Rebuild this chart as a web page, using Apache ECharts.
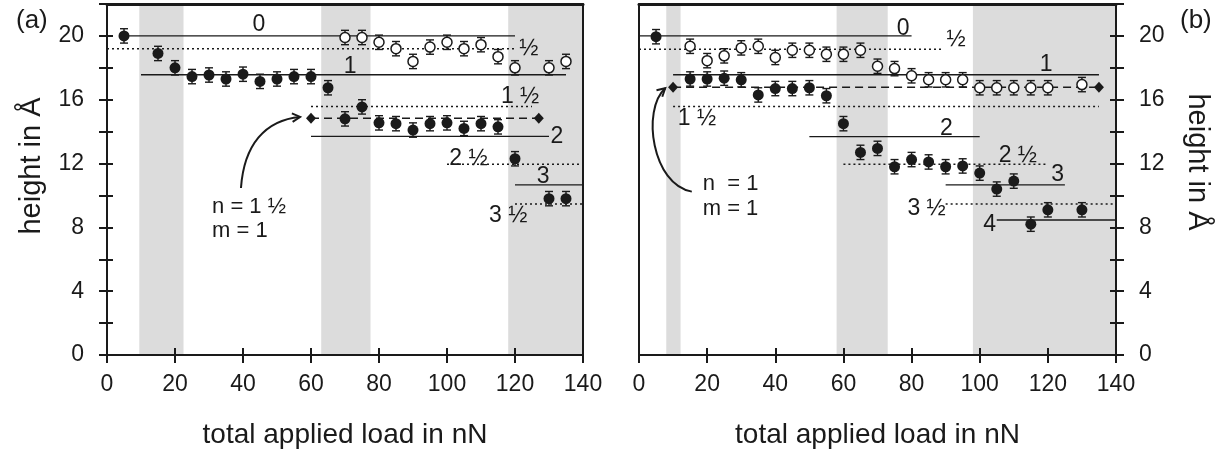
<!DOCTYPE html>
<html><head><meta charset="utf-8">
<script src="https://cdn.jsdelivr.net/npm/echarts@6/dist/echarts.min.js"></script>
<style>html,body{margin:0;padding:0;background:#fff}#c{width:1228px;height:454px}</style>
</head><body><div id="c"></div>
<script>
// ---------- Panel (a) ----------
const loadA_filled = [5,15,20,25,30,35,40,45,50,55,60,65,70,75,80,85,90,95,100,105,110,115,120,130,135];
const heightA_filled = [20.0,18.9,18.0,17.45,17.55,17.3,17.6,17.15,17.3,17.45,17.45,16.75,14.8,15.55,14.55,14.5,14.1,14.5,14.55,14.2,14.5,14.3,12.3,9.8,9.8];
const errA_filled = [0.45,0.45,0.45,0.45,0.45,0.45,0.45,0.45,0.45,0.45,0.45,0.45,0.45,0.45,0.45,0.45,0.45,0.45,0.45,0.45,0.45,0.45,0.45,0.45,0.45];
const loadA_open = [70,75,80,85,90,95,100,105,110,115,120,130,135];
const heightA_open = [19.9,19.9,19.6,19.2,18.4,19.3,19.6,19.2,19.45,18.7,18.0,18.0,18.4];
const errA_open = [0.45,0.45,0.45,0.45,0.45,0.45,0.45,0.45,0.45,0.45,0.45,0.45,0.45];
const bandsA = [[9.5,22.5],[63,77.5],[118,140]];
// levels: [height, from load, to load]
const levelsA_solid = [[20.0,5,120],[17.57,10,135],[13.7,60,130],[10.66,120,140]];
const levelsA_dotted = [[19.2,0,120],[15.57,60,125],[11.95,100,140],[9.47,120,140]];
const levelsA_dashed = [[14.84,60,127]];
const diamondsA = [[60,14.84],[127,14.84]];
const levelTextA = ['0','½','1','1 ½','2','2 ½','3','3 ½'];
const levelAtA = [[44.7,20.7],[124.1,19.2],[71.5,18.07],[121.5,16.2],[132.3,13.7],[106.3,12.33],[128.3,11.18],[118,8.71]];
const noteTextA = ['n = 1 ½','m = 1'];
const noteAtA = [[30.9,9.28],[30.9,7.77]];
const arrowA = [[39.4,10.47],[40.3,13.17],[46.5,14.73],[56.8,14.92]];

// ---------- Panel (b) ----------
const loadB_filled = [5,15,20,25,30,35,40,45,50,55,60,65,70,75,80,85,90,95,100,105,110,115,120,130];
const heightB_filled = [19.95,17.3,17.3,17.35,17.25,16.3,16.7,16.7,16.75,16.25,14.5,12.7,12.95,11.8,12.25,12.1,11.8,11.85,11.4,10.4,10.9,8.2,9.1,9.1];
const errB_filled = [0.45,0.45,0.45,0.45,0.45,0.45,0.45,0.45,0.45,0.45,0.45,0.45,0.45,0.45,0.45,0.45,0.45,0.45,0.45,0.45,0.45,0.45,0.45,0.45];
const loadB_open = [15,20,25,30,35,40,45,50,55,60,65,70,75,80,85,90,95,100,105,110,115,120,130];
const heightB_open = [19.35,18.45,18.75,19.25,19.35,18.65,19.1,19.1,18.85,18.85,19.1,18.1,17.95,17.5,17.25,17.25,17.25,16.75,16.75,16.75,16.75,16.75,16.95];
const errB_open = [0.45,0.45,0.45,0.45,0.45,0.45,0.45,0.45,0.45,0.45,0.45,0.45,0.45,0.45,0.45,0.45,0.45,0.45,0.45,0.45,0.45,0.45,0.45];
const bandsB = [[8,12.2],[58,73],[98,140]];
const levelsB_solid = [[20.0,0,80],[17.57,10,135],[13.69,50,100],[10.66,90,125],[8.46,105,140]];
const levelsB_dotted = [[19.17,0,89],[15.57,10,135],[11.96,60,120],[9.47,90,140]];
const levelsB_dashed = [[16.78,10,135]];
const diamondsB = [[10,16.78],[135,16.78]];
const levelTextB = ['0','½','1','1 ½','2','2 ½','3','3 ½','4'];
const levelAtB = [[77.5,20.48],[93.1,19.75],[119.5,18.18],[17.0,14.84],[90.2,14.21],[111.2,12.48],[122.9,11.29],[84.4,9.2],[102.9,8.15]];
const noteTextB = ['n  = 1','m = 1'];
const noteAtB = [[18.7,10.72],[18.7,9.15]];
const arrowB = [[15.5,10.24],[3.9,10.66],[0.67,15.36],[7.7,16.72]];

// ---------- axes ----------
const xMin = 0, xMax = 140, xStep = 20;
const yMin = 0, yMax = 22, yStep = 2, yLabelStep = 4;
const xTitle = 'total applied load in nN';
const yTitle = 'height in Å';

const FONT = '"Liberation Sans", Arial, sans-serif';
const INK = '#1a1a1a';
const chart = echarts.init(document.getElementById('c'));

const pts = (xs, ys) => xs.map((x,i)=>[x, ys[i]]);
const errs = (xs, ys, es) => xs.map((x,i)=>[x, ys[i]-es[i], ys[i]+es[i]]);

function bandSeries(ai, data){
  return {type:'custom', xAxisIndex:ai*3, yAxisIndex:ai*3, z:1, silent:true, data,
    encode:{x:[0,1]},
    renderItem(p, api){
      const a = api.coord([api.value(0), yMax]), b = api.coord([api.value(1), yMin]);
      return {type:'rect', shape:{x:a[0], y:a[1], width:b[0]-a[0], height:b[1]-a[1]}, style:{fill:'#dcdcdc'}};
    }};
}
function levelSeries(ai, data, dash, w){
  return {type:'custom', xAxisIndex:ai*3, yAxisIndex:ai*3, z:2, silent:true, data,
    encode:{x:[1,2], y:0},
    renderItem(p, api){
      const h = api.value(0);
      const a = api.coord([api.value(1), h]), b = api.coord([api.value(2), h]);
      return {type:'line', shape:{x1:a[0], y1:a[1], x2:b[0], y2:b[1]},
        style:{stroke:INK, lineWidth:w, lineDash:dash}};
    }};
}
function errSeries(ai, data){
  return {type:'custom', xAxisIndex:ai*3, yAxisIndex:ai*3, z:3, silent:true, data,
    encode:{x:0, y:[1,2]},
    renderItem(p, api){
      const x = api.value(0);
      const a = api.coord([x, api.value(1)]), b = api.coord([x, api.value(2)]);
      const w = 4, st = {stroke:INK, lineWidth:1.4};
      return {type:'group', children:[
        {type:'line', shape:{x1:a[0], y1:a[1], x2:b[0], y2:b[1]}, style:st},
        {type:'line', shape:{x1:a[0]-w, y1:a[1], x2:a[0]+w, y2:a[1]}, style:st},
        {type:'line', shape:{x1:b[0]-w, y1:b[1], x2:b[0]+w, y2:b[1]}, style:st}
      ]};
    }};
}
function textSeries(ai, at, texts, align, size){
  return {type:'custom', xAxisIndex:ai*3, yAxisIndex:ai*3, z:6, silent:true, data:at,
    renderItem(p, api){
      const c = api.coord([api.value(0), api.value(1)]);
      return {type:'text', x:c[0], y:c[1], style:{text:texts[p.dataIndex], fill:INK,
        font: size + 'px ' + FONT, align, verticalAlign:'middle', textAlign:align, textVerticalAlign:'middle'}};
    }};
}
function arrowSeries(ai, ctrl){
  return {type:'custom', xAxisIndex:ai*3, yAxisIndex:ai*3, z:6, silent:true, data:[[ctrl[0][0], ctrl[0][1]]],
    renderItem(p, api){
      const c = ctrl.map(q => api.coord(q));
      const dx = c[3][0]-c[2][0], dy = c[3][1]-c[2][1];
      const ang = Math.atan2(dy, dx), L = 9, s = 0.5;
      const h1 = [c[3][0]-L*Math.cos(ang-s), c[3][1]-L*Math.sin(ang-s)];
      const h2 = [c[3][0]-L*Math.cos(ang+s), c[3][1]-L*Math.sin(ang+s)];
      const st = {stroke:INK, lineWidth:2, fill:null};
      return {type:'group', children:[
        {type:'bezierCurve', shape:{x1:c[0][0], y1:c[0][1], cpx1:c[1][0], cpy1:c[1][1], cpx2:c[2][0], cpy2:c[2][1], x2:c[3][0], y2:c[3][1]}, style:st},
        {type:'polyline', shape:{points:[h1, c[3], h2]}, style:st}
      ]};
    }};
}
function panelSeries(ai, P){
  return [
    bandSeries(ai, P.bands),
    levelSeries(ai, P.solid, null, 1.4),
    levelSeries(ai, P.dotted, [2,3], 1.5),
    levelSeries(ai, P.dashed, [8,5], 1.5),
    errSeries(ai, errs(P.lf, P.hf, P.ef)),
    errSeries(ai, errs(P.lo, P.ho, P.eo)),
    {type:'scatter', xAxisIndex:ai*3, yAxisIndex:ai*3, z:4, silent:true, symbol:'circle', symbolSize:11,
      itemStyle:{color:INK, opacity:1}, data:pts(P.lf, P.hf)},
    {type:'scatter', xAxisIndex:ai*3, yAxisIndex:ai*3, z:4, silent:true, symbol:'circle', symbolSize:10,
      itemStyle:{color:'#ffffff', borderColor:INK, borderWidth:1.5, opacity:1}, data:pts(P.lo, P.ho)},
    {type:'scatter', xAxisIndex:ai*3, yAxisIndex:ai*3, z:4, silent:true, symbol:'diamond', symbolSize:[10,11],
      itemStyle:{color:INK, opacity:1}, data:P.diamonds},
    textSeries(ai, P.levelAt, P.levelText, 'center', 23),
    textSeries(ai, P.noteAt, P.noteText, 'left', 22),
    arrowSeries(ai, P.arrow)
  ];
}

const lineSt = w => ({color:INK, width:w});
function xAxes(g){
  const base = {gridIndex:g, type:'value', min:xMin, max:xMax, interval:xStep, splitLine:{show:false}, z:10};
  return [
    Object.assign({}, base, {position:'bottom', axisLine:{onZero:false, lineStyle:lineSt(2)},
      axisTick:{length:8, lineStyle:lineSt(2)},
      axisLabel:{fontSize:23, color:INK, fontFamily:FONT, margin:18},
      name:xTitle, nameLocation:'middle', nameGap:66, nameTextStyle:{fontSize:28, color:INK, fontFamily:FONT}}),
    Object.assign({}, base, {position:'bottom', axisLine:{show:false, onZero:false},
      axisTick:{inside:true, length:7, lineStyle:lineSt(2)}, axisLabel:{show:false}}),
    Object.assign({}, base, {position:'top', axisLine:{onZero:false, lineStyle:lineSt(3)},
      axisTick:{show:false}, axisLabel:{show:false}})
  ];
}
function yAxes(g, side){
  const other = side === 'left' ? 'right' : 'left';
  const base = {gridIndex:g, type:'value', min:yMin, max:yMax, interval:yStep, splitLine:{show:false}, z:10};
  return [
    Object.assign({}, base, {position:side, axisLine:{onZero:false, lineStyle:lineSt(2)},
      axisTick:{length:8, lineStyle:lineSt(2)},
      axisLabel:{fontSize:23, color:INK, fontFamily:FONT, margin:23,
        formatter: v => (v % yLabelStep === 0 && v <= 20) ? String(v) : ''}}),
    Object.assign({}, base, {position:side, axisLine:{show:false, onZero:false},
      axisTick:{inside:true, length:6, lineStyle:lineSt(2)}, axisLabel:{show:false}}),
    Object.assign({}, base, {position:other, axisLine:{onZero:false, lineStyle:lineSt(2)},
      axisTick:{show:false}, axisLabel:{show:false}})
  ];
}

const PA = {bands:bandsA, solid:levelsA_solid, dotted:levelsA_dotted, dashed:levelsA_dashed,
  lf:loadA_filled, hf:heightA_filled, ef:errA_filled, lo:loadA_open, ho:heightA_open, eo:errA_open,
  diamonds:diamondsA, levelAt:levelAtA, levelText:levelTextA, noteAt:noteAtA, noteText:noteTextA, arrow:arrowA};
const PB = {bands:bandsB, solid:levelsB_solid, dotted:levelsB_dotted, dashed:levelsB_dashed,
  lf:loadB_filled, hf:heightB_filled, ef:errB_filled, lo:loadB_open, ho:heightB_open, eo:errB_open,
  diamonds:diamondsB, levelAt:levelAtB, levelText:levelTextB, noteAt:noteAtB, noteText:noteTextB, arrow:arrowB};

chart.setOption({
  animation:false,
  backgroundColor:'#ffffff',
  grid:[
    {left:107, top:4, width:476, height:351},
    {left:639, top:4, width:477, height:351}
  ],
  xAxis: xAxes(0).concat(xAxes(1)),
  yAxis: yAxes(0,'left').concat(yAxes(1,'right')),
  graphic:[
    {type:'text', left:16, top:8, style:{text:'(a)', font:'26px '+FONT, fill:INK}},
    {type:'text', left:1180, top:8, style:{text:'(b)', font:'26px '+FONT, fill:INK}},
    {type:'text', x:32, y:166, rotation:Math.PI/2, style:{text:yTitle, font:'29px '+FONT, fill:INK, align:'center', verticalAlign:'middle', textAlign:'center', textVerticalAlign:'middle'}},
    {type:'text', x:1197, y:162, rotation:-Math.PI/2, style:{text:yTitle, font:'29px '+FONT, fill:INK, align:'center', verticalAlign:'middle', textAlign:'center', textVerticalAlign:'middle'}}
  ],
  series: panelSeries(0, PA).concat(panelSeries(1, PB))
});
</script></body></html>
